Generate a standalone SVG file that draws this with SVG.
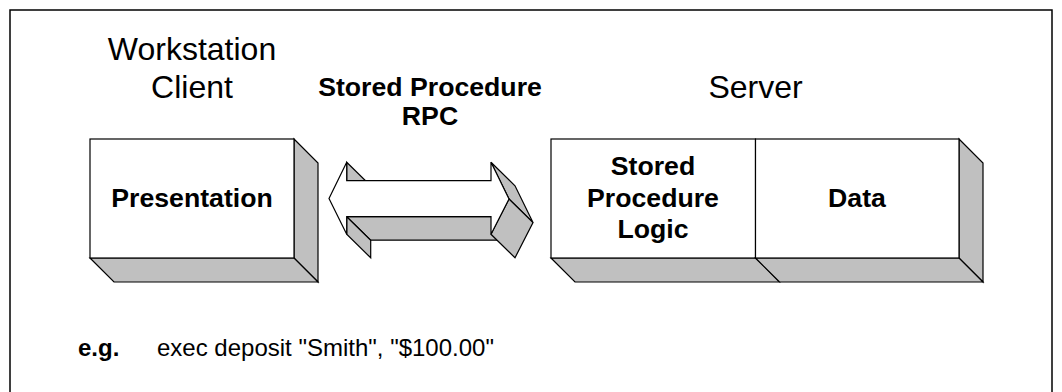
<svg xmlns="http://www.w3.org/2000/svg" width="1062" height="392" viewBox="0 0 1062 392">
<style>
.face{fill:#ffffff;stroke:#000;stroke-width:1.2;stroke-linejoin:miter}
.side{fill:#c0c0c0;stroke:#000;stroke-width:1.2;stroke-linejoin:miter}
.big{font-family:"Liberation Sans",Arial,sans-serif;font-size:32px;fill:#000}
.lbl{font-family:"Liberation Sans",Arial,sans-serif;font-size:26.67px;font-weight:bold;fill:#000}
.note{font-family:"Liberation Sans",Arial,sans-serif;font-size:24px;fill:#000}
</style>
<rect x="10" y="10" width="1042" height="420" fill="#fff" stroke="#000" stroke-width="1.5"/>
<g id="titles" text-anchor="middle">
<text class="big" x="192" y="60">Workstation</text>
<text class="big" x="192" y="98">Client</text>
<text class="big" x="755.5" y="98">Server</text>
</g>
<g id="node-presentation">
<polygon class="side" points="294,139 318,163 318,282 294,258"/>
<polygon class="side" points="90,258 294,258 318,282 114,282"/>
<rect class="face" x="90" y="139" width="204" height="119"/>
<text class="lbl" x="192" y="207" text-anchor="middle">Presentation</text>
</g>
<g id="connectors">
<g id="rpc-arrow">
<polygon class="side" points="346.7,162.3 346.7,180.7 370.7,204.2 370.7,185.8"/>
<polygon class="side" points="491,216.7 346.7,216.7 370.7,240.2 515,240.2"/>
<polygon class="side" points="346.7,216.7 346.7,234.3 370.7,257.8 370.7,240.2"/>
<polygon class="side" points="491,162.3 509,199 533,222.5 515,185.8"/>
<polygon class="side" points="509,199 491,234.3 515,257.8 533,222.5"/>
<polygon class="face" points="329,198.5 346.7,162.3 346.7,180.7 491,180.7 491,162.3 509,199 491,234.3 491,216.7 346.7,216.7 346.7,234.3"/>
</g>
<g text-anchor="middle">
<text class="lbl" x="430" y="96">Stored Procedure</text>
<text class="lbl" x="430" y="125">RPC</text>
</g>
</g>
<g id="node-logic">
<polygon class="side" points="551,258 755.5,258 779.5,282 575,282"/>
<rect class="face" x="551" y="139" width="204.5" height="119"/>
<g text-anchor="middle">
<text class="lbl" x="653" y="175">Stored</text>
<text class="lbl" x="653" y="206.5">Procedure</text>
<text class="lbl" x="653" y="238">Logic</text>
</g>
</g>
<g id="node-data">
<polygon class="side" points="959,139 983,163 983,282 959,258"/>
<polygon class="side" points="755.5,258 959,258 983,282 779.5,282"/>
<rect class="face" x="755.5" y="139" width="203.5" height="119"/>
<text class="lbl" x="857" y="207" text-anchor="middle">Data</text>
</g>
<g id="example">
<text class="note" x="78" y="356" font-weight="bold">e.g.</text>
<text class="note" x="157" y="356">exec deposit "Smith", "$100.00"</text>
</g>
</svg>
